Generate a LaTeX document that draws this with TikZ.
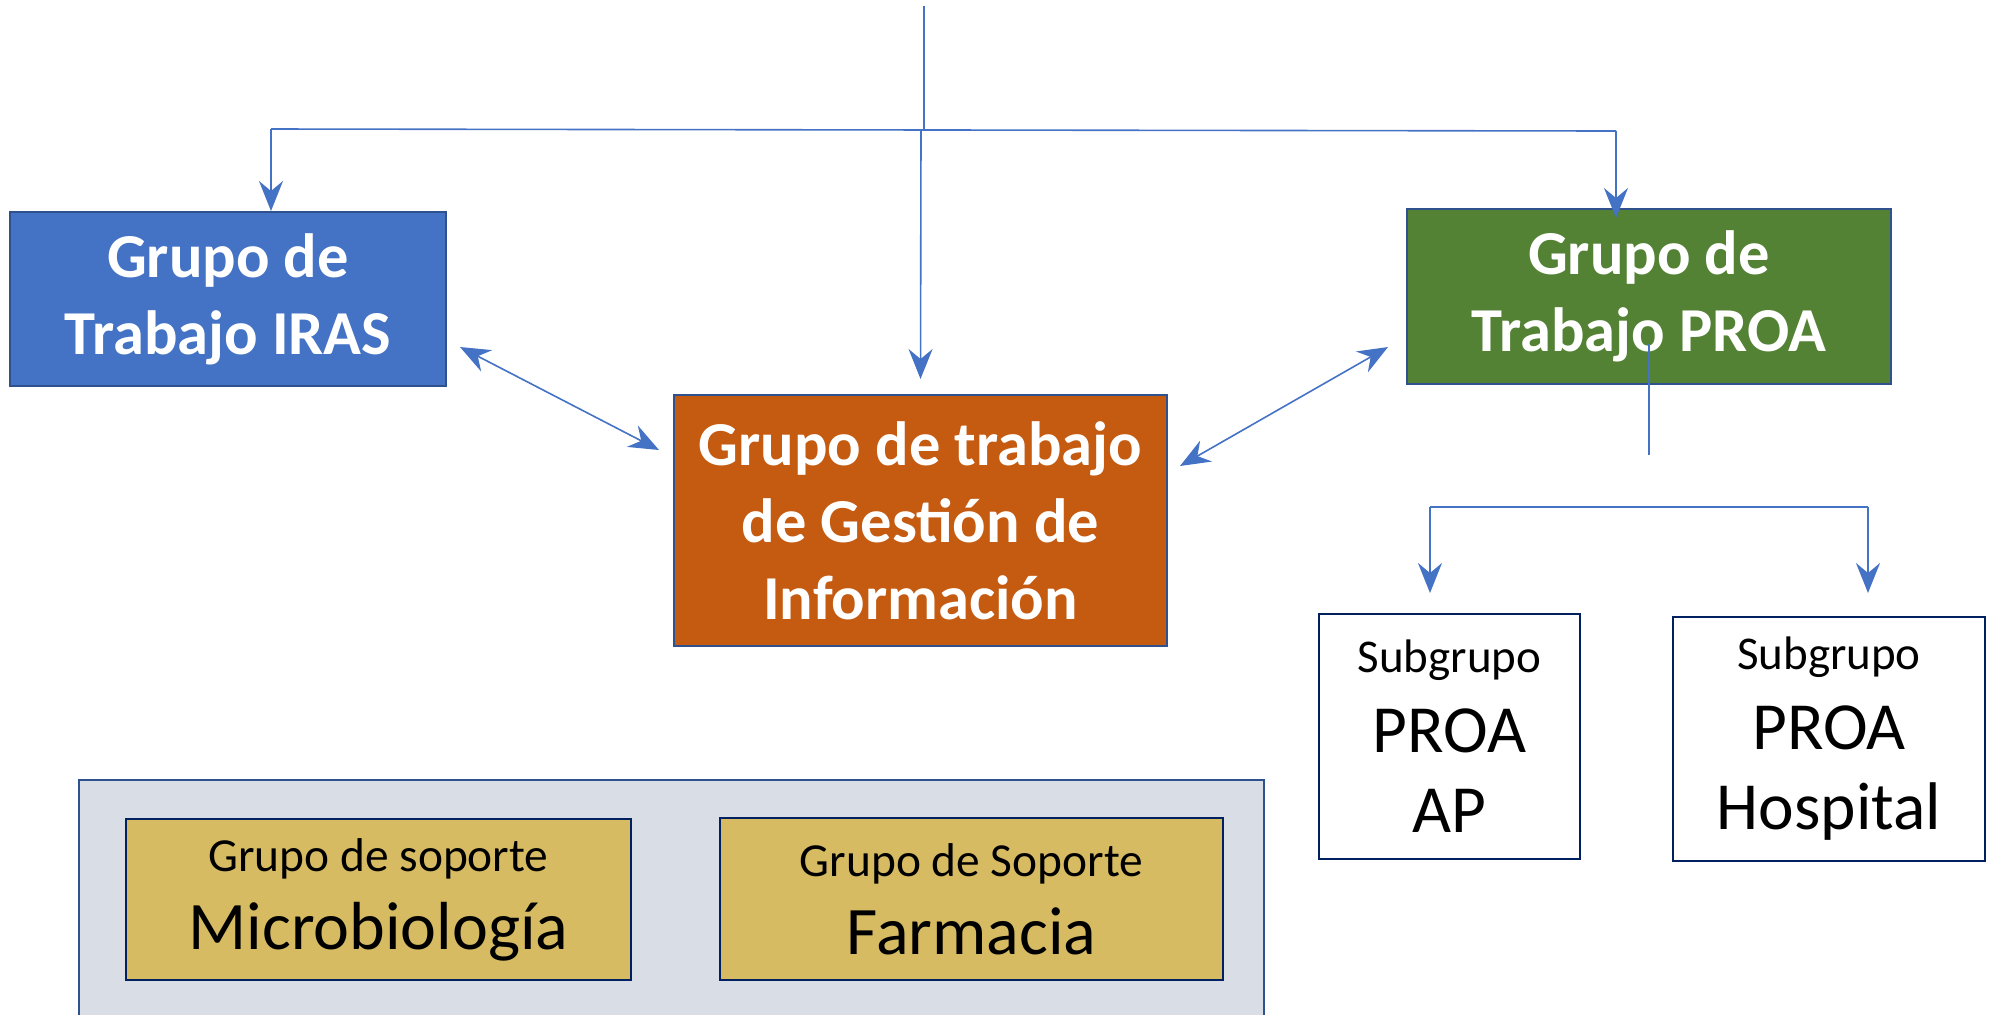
\documentclass[tikz,border=0pt]{standalone}
\usepackage{fontspec}
\setmainfont{Carlito}
\usetikzlibrary{arrows.meta,calc,positioning}

\definecolor{irasblue}{HTML}{4472C4}
\definecolor{proagreen}{HTML}{548235}
\definecolor{gestorange}{HTML}{C55A11}
\definecolor{edgeblue}{HTML}{2F528F}
\definecolor{navy}{HTML}{002060}
\definecolor{soportegray}{HTML}{D9DDE6}
\definecolor{soportegold}{HTML}{D6BB62}
\definecolor{linkblue}{HTML}{4472C4}

\begin{document}
\begin{tikzpicture}[x=0.5pt,y=-0.5pt,>={Stealth[length=15pt,width=12pt,inset=5pt]},
	grupo/.style={draw=edgeblue,line width=1pt,text=white,align=center,inner sep=0pt,font=\bfseries\fontsize{31.25}{38.5}\selectfont},
	subgrupo/.style={draw=navy,line width=1pt,fill=white,align=center,inner sep=0pt,font=\fontsize{33.7}{40}\selectfont},
	soporte/.style={draw=navy,line width=1pt,fill=soportegold,align=center,inner sep=0pt,font=\fontsize{34}{39}\selectfont},
	link/.style={draw=linkblue,line width=0.8pt}]
			\useasboundingbox (0,0) rectangle (1998,1014);
			% grupos de trabajo
			\node[grupo,fill=irasblue,minimum width=218pt,minimum height=87pt] (iras) at (228,299) {Grupo de\\Trabajo IRAS};
			\node[grupo,fill=proagreen,minimum width=242pt,minimum height=87.5pt] (proa) at (1649,296.5) {Grupo de\\Trabajo PROA};
			\node[grupo,fill=gestorange,minimum width=246.5pt,minimum height=125.5pt] (gestion) at (920.5,520.5) {Grupo de trabajo\\de Gestión de\\Información};
			% subgrupos PROA
			\node[subgrupo,minimum width=130.5pt,minimum height=122.5pt] (ap) at (1449.5,736.5) {{\fontsize{23.5}{28}\selectfont Subgrupo}\\PROA\\AP};
			\node[subgrupo,minimum width=156pt,minimum height=122pt] (hospital) at (1829,739) {{\fontsize{23.5}{28}\selectfont Subgrupo}\\PROA\\Hospital};
			% grupos de soporte
			\node[draw=edgeblue,fill=soportegray,line width=1pt,anchor=north west,minimum width=592.5pt,minimum height=130pt] (apoyo) at (78,779) {};
			\node[soporte,minimum width=252.5pt,minimum height=80.5pt] (micro) at (378.5,899.5) {{\fontsize{23.7}{28}\selectfont Grupo de soporte}\\Microbiología};
			\node[soporte,minimum width=251.5pt,minimum height=81pt] (farmacia) at (971.5,899) {{\fontsize{23.7}{28}\selectfont Grupo de Soporte}\\Farmacia};
			% conectores
			\coordinate (raiz) at (924,6);
			\coordinate (busL) at (271,129);
			\coordinate (busR) at (1616,131);
			\coordinate (busC) at (921,131);
			\draw[link] (raiz) -- (raiz |- busL);
			\draw[link] (busL) -- (busR);
			\draw[link,->] (busL) -- (busL |- iras.north);
			\draw[link,->] (busR) -- ($(busR |- proa.north)+(0,10)$);
			\draw[link,->] (busC) -- ($(gestion.north)+(0,-15)$);
			\draw[link,<->] ($(iras.east)+(13,48)$) -- ($(gestion.west)+(-14,-70.5)$);
			\draw[link,<->] ($(proa.west)+(-18,50.5)$) -- ($(gestion.east)+(12,-54.5)$);
			\coordinate (subA) at (1649,455);
			\coordinate (subL) at (1430,507);
			\coordinate (subR) at (1868,507);
			\draw[link] ($(proa.center)+(0,47.5)$) -- (subA);
			\draw[link] (subL) -- (subR);
			\draw[link,->] (subL) -- ($(subL |- ap.north)+(0,-20)$);
			\draw[link,->] (subR) -- ($(subR |- hospital.north)+(0,-23)$);
		\end{tikzpicture}
\end{document}
